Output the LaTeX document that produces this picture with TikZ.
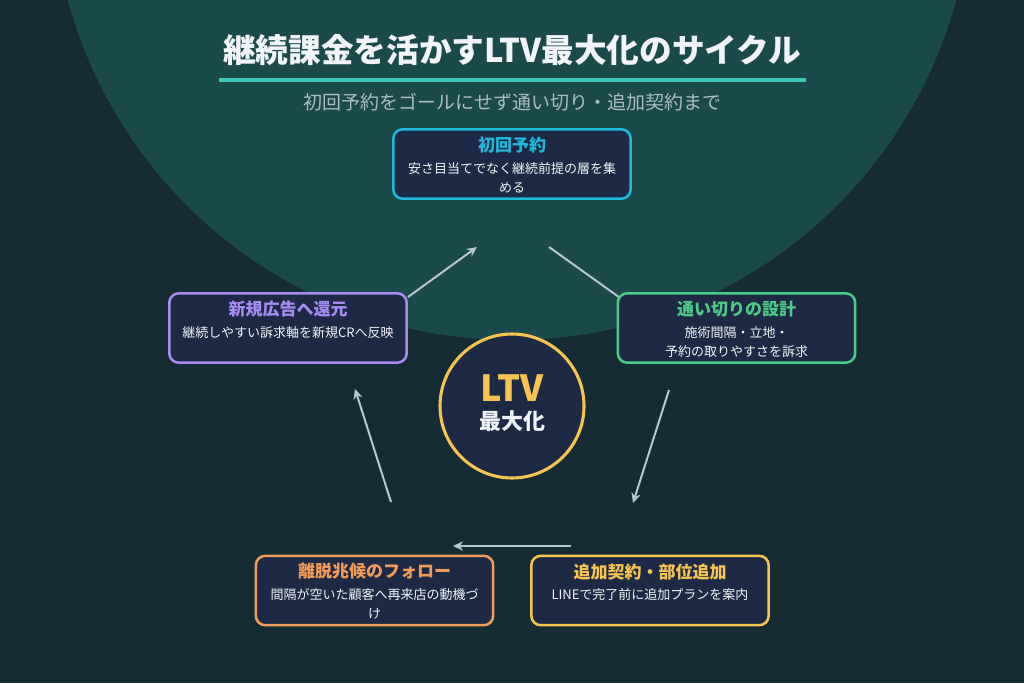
\documentclass[tikz,border=0pt]{standalone}
\usepackage{fontspec}
\setmainfont{Noto Sans CJK JP}
\usetikzlibrary{arrows.meta,positioning,calc}
\definecolor{bgcolor}{HTML}{152C35}
\definecolor{halocolor}{HTML}{1B4A4B}
\definecolor{cardcolor}{HTML}{1E2A45}
\definecolor{rulecolor}{HTML}{3CC8B8}
\definecolor{subcolor}{HTML}{A9BCC8}
\definecolor{textcolor}{HTML}{F1F5F9}
\definecolor{arrowcolor}{HTML}{B4C8D4}
\definecolor{stepcyan}{HTML}{1FB8DA}
\definecolor{stepgreen}{HTML}{4CCB86}
\definecolor{stepyellow}{HTML}{F7C450}
\definecolor{steporange}{HTML}{F49B58}
\definecolor{steppurple}{HTML}{A58CF0}
\tikzset{
  card/.style={draw=#1, fill=cardcolor, line width=1.9pt, rounded corners=7pt,
    minimum width=178pt, minimum height=52pt, inner sep=0pt},
  cardtitle/.style={font=\bfseries\fontsize{12.75}{14}\selectfont, inner sep=0pt},
  cardbody/.style={font=\fontsize{9.75}{14.25}\selectfont, text=textcolor,
    align=center, inner sep=0pt, anchor=north},
  flowarrow/.style={-{Stealth[length=7.5pt,width=7pt]}, line width=1.5pt, arrowcolor},
}

\begin{document}
\begin{tikzpicture}[x=0.75pt, y=-0.75pt]
    \useasboundingbox (0,0) rectangle (1024,683);
    % Background
    \fill[bgcolor] (0,0) rectangle (1024,683);
    \begin{scope}
      \clip (0,0) rectangle (1024,683);
      \fill[halocolor] (512,-120) circle (460);
    \end{scope}
    % Title
    \node[font=\bfseries\fontsize{24.5}{28}\selectfont, text=textcolor] (title)
      at (512,50) {継続課金を活かすLTV最大化のサイクル};
    \draw[rulecolor, line width=2.4pt] (219,80) -- (806,80);
    \node[font=\fontsize{14.25}{16}\selectfont, text=subcolor] (subtitle)
      at (512,102) {初回予約をゴールにせず通い切り・追加契約まで};
    % Cycle arrows
    \coordinate (a1s) at (408,297);
    \coordinate (a1e) at (477,247);
    \coordinate (a2s) at (549,247);
    \coordinate (a2e) at (630,305);
    \coordinate (a3s) at (669,390);
    \coordinate (a3e) at (633,503);
    \coordinate (a4s) at (571,546);
    \coordinate (a4e) at (453,546);
    \coordinate (a5s) at (391,502);
    \coordinate (a5e) at (355,389);
    \draw[flowarrow] (a1s) -- (a1e);
    \draw[flowarrow] (a2s) -- (a2e);
    \draw[flowarrow] (a3s) -- (a3e);
    \draw[flowarrow] (a4s) -- (a4e);
    \draw[flowarrow] (a5s) -- (a5e);
    % First booking
    \node[card=stepcyan] (first) at (512,164) {};
    \node[cardtitle, text=stepcyan] at ($(first.north)+(0,17)$) {初回予約};
    \node[cardbody] at ($(first.north)+(0,34)$) {安さ目当てでなく継続前提の層を集\\める};
    % Visit design
    \node[card=stepgreen] (visit) at (736.5,328) {};
    \node[cardtitle, text=stepgreen] at ($(visit.north)+(0,17)$) {通い切りの設計};
    \node[cardbody] at ($(visit.north)+(0,34)$) {施術間隔・立地・\\予約の取りやすさを訴求};
    % Upsell
    \node[card=stepyellow] (upsell) at (650,590.5) {};
    \node[cardtitle, text=stepyellow] at ($(upsell.north)+(0,17)$) {追加契約・部位追加};
    \node[cardbody] at ($(upsell.north)+(0,34)$) {LINEで完了前に追加プランを案内};
    % Churn follow-up
    \node[card=steporange] (churn) at (374.5,590.5) {};
    \node[cardtitle, text=steporange] at ($(churn.north)+(0,17)$) {離脱兆候のフォロー};
    \node[cardbody] at ($(churn.north)+(0,34)$) {間隔が空いた顧客へ再来店の動機づ\\け};
    % Back to ads
    \node[card=steppurple] (ads) at (288,328) {};
    \node[cardtitle, text=steppurple] at ($(ads.north)+(0,17)$) {新規広告へ還元};
    \node[cardbody] at ($(ads.north)+(0,34)$) {継続しやすい訴求軸を新規CRへ反映};
    % Center
    \node[circle, draw=stepyellow, fill=cardcolor, line width=2.3pt,
      minimum size=108pt, inner sep=0pt] (core) at (512,406) {};
    \node[font=\bfseries\fontsize{27}{30}\selectfont, text=stepyellow] (ltv)
      at (512,388) {LTV};
    \node[font=\bfseries\fontsize{16.5}{18}\selectfont, text=textcolor] (maxim)
      at (512,421) {最大化};
  \end{tikzpicture}
\end{document}
